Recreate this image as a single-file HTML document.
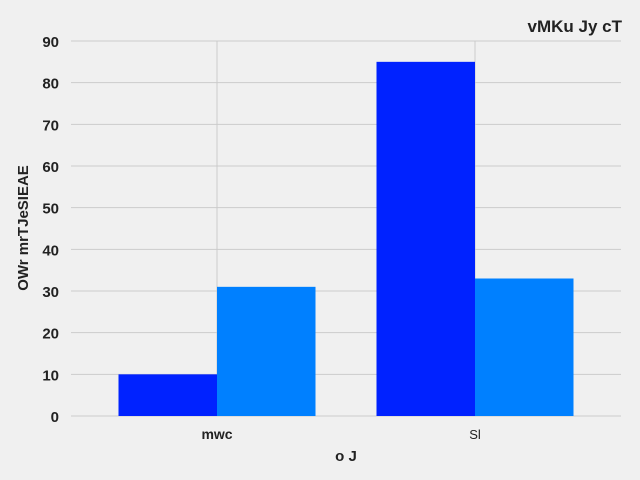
<!DOCTYPE html>
<html><head><meta charset="utf-8"><style>
body{margin:0;background:#f0f0f0;}
svg{display:block;font-family:"Liberation Sans",sans-serif;}
</style></head><body>
<svg id="c" width="640" height="480">
<rect width="640" height="480" fill="#f0f0f0"/>
<g id="grid"></g><g id="bars"></g><g id="labels"></g>
<text x="622" y="32" text-anchor="end" font-size="17" font-weight="bold" fill="#222">vMKu Jy cT</text>
<text x="346" y="461" text-anchor="middle" font-size="15" font-weight="bold" fill="#222">o J</text>
<text transform="translate(28,228) rotate(-90)" text-anchor="middle" font-size="15" font-weight="bold" fill="#222">OWr mrTJeSIEAE</text>
</svg>
<script>
const categories = ["mwc", "Sl"];
const series1 = [10, 85];
const series2 = [31, 33];
const yTicks = [0,10,20,30,40,50,60,70,80,90];
const NS="http://www.w3.org/2000/svg";
const L=71,R=621,Y0=416,Y90=41;
const y=v=>Y0-(v/90)*(Y0-Y90);
const step=(R-L)/categories.length*0.9382;
const x=i=>217+i*258;
const bw=98.5;
function mk(t,a,p){const e=document.createElementNS(NS,t);for(const k in a)e.setAttribute(k,a[k]);document.getElementById(p).appendChild(e);return e;}
yTicks.forEach(v=>{
 const g=mk('line',{x1:L,x2:R,y1:y(v),y2:y(v),stroke:'#cbcbcb','stroke-width':1},'grid');
 
 
 const t=mk('text',{x:59,y:y(v)+6,'text-anchor':'end','font-size':15,'font-weight':'bold',fill:'#222'},'labels');
 t.textContent=v;
 
 
});
categories.forEach((c,i)=>{
 const g=mk('line',{x1:x(i),x2:x(i),y1:Y90,y2:Y0,stroke:'#cbcbcb','stroke-width':1},'grid');
 
 
 const b1=mk('rect',{x:x(i)-bw,y:y(series1[i]),width:bw,height:Y0-y(series1[i]),fill:'#0022ff'},'bars');
 
 
 const b2=mk('rect',{x:x(i),y:y(series2[i]),width:bw,height:Y0-y(series2[i]),fill:'#0080ff'},'bars');
 
 
 const t=mk('text',{x:x(i),y:439,'text-anchor':'middle','font-size':i==0?14:13,'font-weight':i==0?'bold':'normal',fill:'#222'},'labels');
 t.textContent=c;
 
 
});
</script>
</body></html>
